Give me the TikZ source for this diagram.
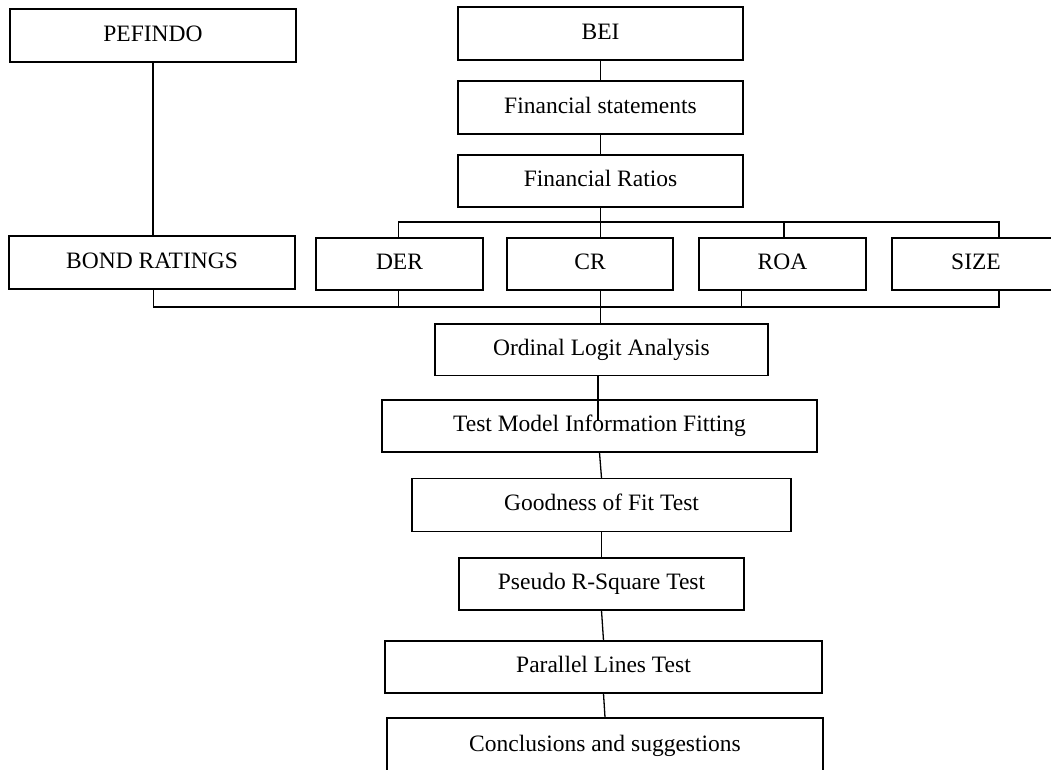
\documentclass[tikz,border=0pt]{standalone}
\usepackage{fontspec}
\setmainfont{Liberation Serif}
\begin{document}
\begin{tikzpicture}[x=1pt,y=-1pt,
  box/.style={draw, line width=1.3pt, inner sep=0pt, anchor=center,
              text height=11pt, text depth=0pt,
              font=\fontsize{23.5}{26}\selectfont},
  conn/.style={draw, line width=1.3pt}]
\useasboundingbox (0,0) rectangle (1051,769);

% top row
\node[box, minimum width=286pt, minimum height=53pt] (pef) at (153,35.5) {PEFINDO};
\node[box, minimum width=285pt, minimum height=53pt] (bei) at (600.5,33.5) {BEI};
\node[box, minimum width=285pt, minimum height=53pt] (fs) at (600.5,107.5) {Financial statements};
\node[box, minimum width=285pt, minimum height=52pt] (fr) at (600.5,181) {Financial Ratios};

% variables row
\node[box, minimum width=286pt, minimum height=53pt] (br) at (152,262.5) {BOND RATINGS};
\node[box, minimum width=167pt, minimum height=52pt] (der) at (399.5,264) {DER};
\node[box, minimum width=166pt, minimum height=52pt] (cr) at (590,264) {CR};
\node[box, minimum width=167pt, minimum height=52pt] (roa) at (782.5,264) {ROA};
\node[box, minimum width=168pt, minimum height=52pt] (size) at (976,264) {SIZE};

% analysis chain
\node[box, minimum width=333pt, minimum height=51.5pt] (ola) at (601.5,349.75) {Ordinal Logit Analysis};
\node[box, minimum width=435pt, minimum height=52pt] (tmif) at (599.5,426) {Test Model Information Fitting};
\node[box, minimum width=379pt, minimum height=53pt] (gof) at (601.5,505) {Goodness of Fit Test};
\node[box, minimum width=285pt, minimum height=52pt] (prs) at (601.5,584) {Pseudo R-Square Test};
\node[box, minimum width=437pt, minimum height=52pt] (plt) at (603.5,667) {Parallel Lines Test};
\node[box, minimum width=436pt, minimum height=56pt] (cs) at (605,746) {Conclusions and suggestions};

% coordinates for buses
\coordinate (tl) at (398.7,222);
\coordinate (tr) at (999,222);
\coordinate (roaT) at (784,222);
\coordinate (bl) at (153.7,307);
\coordinate (bEnd) at (999,307);
\coordinate (roaB) at (741.7,307);
\coordinate (olaT) at (598,421);

% connectors
\draw[conn] (pef.south) -- (pef.south |- br.north);
\draw[conn] (bei.south) -- (fs.north);
\draw[conn] (fs.south) -- (fr.north);
\draw[conn] (fr.south) -- (fr.south |- cr.north);
\draw[conn] (tl |- der.north) -- (tl) -- (tr) -- (tr |- size.north);
\draw[conn] (roaT) -- (roaT |- roa.north);

\draw[conn] (bl |- br.south) -- (bl) -- (bEnd) -- (bEnd |- size.south);
\draw[conn] (tl |- der.south) -- (tl |- bl);
\draw[conn] (roaB |- roa.south) -- (roaB);
\draw[conn] (fr.south |- cr.south) -- (fr.south |- ola.north);

\draw[conn] (olaT |- ola.south) -- (olaT);
\draw[conn] (tmif.south) -- (gof.north);
\draw[conn] (gof.south) -- (prs.north);
\draw[conn] (prs.south) -- (plt.north);
\draw[conn] (plt.south) -- (cs.north);
\end{tikzpicture}
\end{document}
